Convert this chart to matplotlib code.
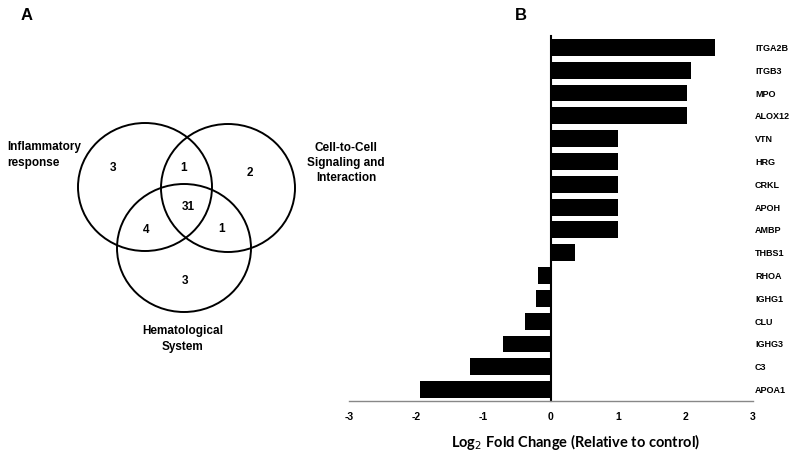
import matplotlib.pyplot as plt
from matplotlib.patches import Ellipse
from matplotlib.transforms import blended_transform_factory
import numpy as np

genes = ["ITGA2B", "ITGB3", "MPO", "ALOX12", "VTN", "HRG", "CRKL", "APOH",
         "AMBP", "THBS1", "RHOA", "IGHG1", "CLU", "IGHG3", "C3", "APOA1"]
log2fc = [2.44, 2.08, 2.02, 2.02, 1.0, 1.0, 1.0, 1.0,
          1.0, 0.35, -0.20, -0.22, -0.38, -0.72, -1.20, -1.95]
xticks = [-3, -2, -1, 0, 1, 2, 3]

set_names = ["Inflammatory\nresponse", "Cell-to-Cell\nSignaling and\nInteraction",
             "Hematological\nSystem"]
# region counts: only A, only B, A&B, only C, A&C, B&C, A&B&C
region_counts = [3, 2, 1, 3, 4, 1, 31]

W, H = 800, 456
fig = plt.figure(figsize=(W / 100, H / 100), dpi=100)
plt.rcParams['font.family'] = ['Liberation Sans', 'DejaVu Sans']

# ---- panel A: venn, drawn in pixel coords
av = fig.add_axes([0, 0, 1, 1])
av.set_xlim(0, W)
av.set_ylim(H, 0)
av.axis("off")

circles = [(145, 188), (228, 189), (184, 249)]
for cx, cy in circles:
    av.add_patch(Ellipse((cx, cy), 134, 128, fill=False, lw=1.4, ec="black"))

count_pos = [(113, 168), (250, 173), (184, 168), (185, 281), (146, 230), (222, 229), (188, 207)]
for (x, y), n in zip(count_pos, region_counts):
    av.text(x, y, str(n), ha="center", va="center", fontsize=8.5, fontweight="bold")

av.text(7, 155, set_names[0], ha="left", va="center", fontsize=8.5,
        fontweight="bold", linespacing=1.35)
av.text(346, 163, set_names[1], ha="center", va="center", fontsize=8.5,
        fontweight="bold", linespacing=1.35)
av.text(183, 339, set_names[2], ha="center", va="center", fontsize=8.5,
        fontweight="bold", linespacing=1.35)

av.text(27, 16, "A", ha="center", va="center", fontsize=12, fontweight="bold")
av.text(521, 16, "B", ha="center", va="center", fontsize=12, fontweight="bold")

# ---- panel B: bar chart
left, right, top, bottom = 349, 753, 37, 402
ax = fig.add_axes([left / W, 1 - bottom / H, (right - left) / W, (bottom - top) / H])
ax.patch.set_alpha(0)
ypos = np.arange(len(genes))[::-1]
ax.barh(ypos, log2fc, height=0.74, color="black")
ax.set_xlim(-3, 3)
ax.set_ylim(-0.5, len(genes) - 0.5)

ax.spines["top"].set_visible(False)
ax.spines["right"].set_visible(False)
ax.spines["left"].set_position(("data", 0))
ax.spines["left"].set_linewidth(1.5)
ax.spines["bottom"].set_color("#888888")
ax.spines["bottom"].set_linewidth(1.0)
ax.set_yticks([])
ax.set_xticks(xticks)
ax.set_xticklabels([str(t) for t in xticks], fontsize=7.5, fontweight="bold")
ax.tick_params(axis="x", length=0, pad=7)

tr = blended_transform_factory(ax.transAxes, ax.transData)
for y, g in zip(ypos, genes):
    ax.text(1.005, y, g, transform=tr, ha="left", va="center", fontsize=6.5,
            fontweight="bold", clip_on=False)

ax.set_xlabel("Log$_2$ Fold Change (Relative to control)", fontsize=10.5,
              fontweight="bold", family="Lato")
ax.xaxis.set_label_coords(0.562, -0.082)

fig.savefig("out.png", dpi=100)
